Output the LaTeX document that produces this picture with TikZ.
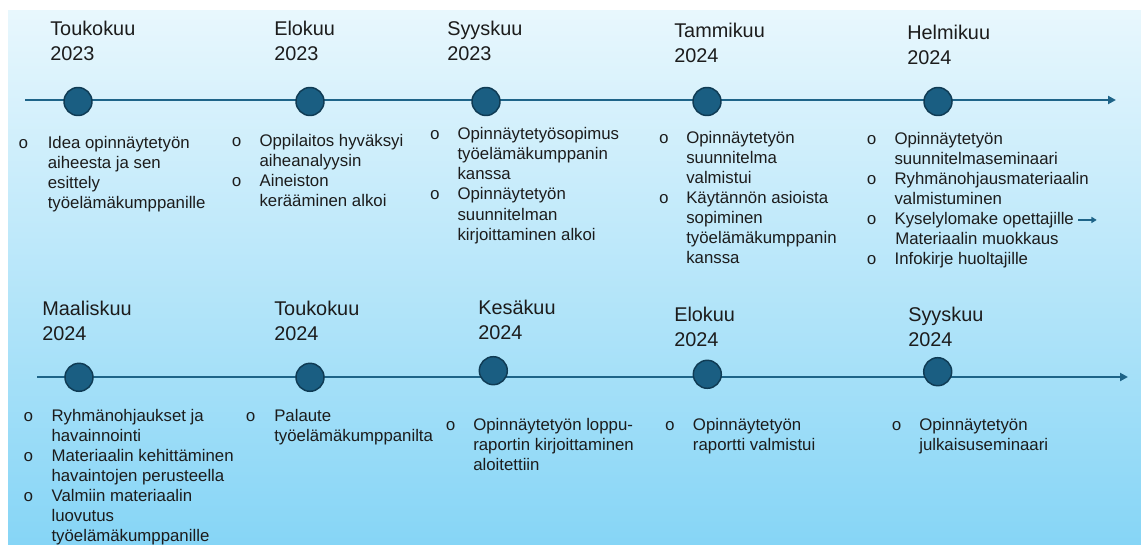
\documentclass[tikz,border=0pt]{standalone}
\usepackage{fontspec}
\setmainfont{Liberation Sans}
\newfontfamily\bulletfont{Liberation Mono}
\usepackage{tikz}
\usetikzlibrary{arrows.meta,positioning}
\definecolor{bgtop}{HTML}{E8F7FD}
\definecolor{bgbot}{HTML}{86D5F6}
\definecolor{tline}{HTML}{1E6488}
\definecolor{dotfill}{HTML}{1A5E82}
\definecolor{dotline}{HTML}{0F3B54}
\definecolor{txt}{HTML}{1C1C1C}
\newcommand{\lns}[1]{\begin{tabular}[t]{@{}l@{}}#1\end{tabular}}

\begin{document}
\begin{tikzpicture}[x=0.75pt,y=-0.75pt,
    dot/.style={circle, draw=dotline, fill=dotfill, line width=1.1pt, minimum size=21pt, inner sep=0pt},
    tl/.style={draw=tline, line width=2pt, -{Triangle[length=6pt,width=6pt]}},
    month/.style={anchor=base west, inner sep=0pt, text=txt, font=\fontsize{14.9}{18.75}\selectfont},
    item/.style={anchor=base west, inner sep=0pt, text=txt, font=\fontsize{12.6}{15}\selectfont},
    bul/.style={anchor=base, inner sep=0pt, text=txt, font=\bulletfont\fontsize{12.6}{15}\selectfont}]
    \useasboundingbox (0,0) rectangle (1141,545);
    \fill[white] (0,0) rectangle (1141,545);
    \shade[top color=bgtop, bottom color=bgbot] (8,11) rectangle (1141,545);

    % upper timeline
    \coordinate (s1) at (25,100);
    \coordinate (e1) at (1116,100);
    \draw[tl] (s1) -- (e1);
    \node at (78,101.5) [dot] (c1) {};
    \node at (310,101.5) [dot] (c2) {};
    \node at (486,101.5) [dot] (c3) {};
    \node at (707,101.5) [dot] (c4) {};
    \node at (938,101.5) [dot] (c5) {};
    \node at (50,36) [month] (h1) {\lns{Toukokuu\\2023}};
    \node at (274,36) [month] (h2) {\lns{Elokuu\\2023}};
    \node at (447,36) [month] (h3) {\lns{Syyskuu\\2023}};
    \node at (674,37.5) [month] (h4) {\lns{Tammikuu\\2024}};
    \node at (907,39.5) [month] (h5) {\lns{Helmikuu\\2024}};

    \node at (23.5,148.3) [bul] (b11) {o};
    \node at (47.5,148.3) [item] (t11) {\lns{Idea opinnäytetyön\\aiheesta ja sen\\esittely\\työelämäkumppanille}};
    \node at (236.7,146.7) [bul] (b21) {o};
    \node at (259.3,146.7) [item] (t21) {\lns{Oppilaitos hyväksyi\\aiheanalyysin}};
    \node at (236.7,186.7) [bul] (b22) {o};
    \node at (259.3,186.7) [item] (t22) {\lns{Aineiston\\kerääminen alkoi}};
    \node at (435,140) [bul] (b31) {o};
    \node at (457.3,140) [item] (t31) {\lns{Opinnäytetyösopimus\\työelämäkumppanin\\kanssa}};
    \node at (435,200) [bul] (b32) {o};
    \node at (457.3,200) [item] (t32) {\lns{Opinnäytetyön\\suunnitelman\\kirjoittaminen alkoi}};
    \node at (664,143.3) [bul] (b41) {o};
    \node at (686,143.3) [item] (t41) {\lns{Opinnäytetyön\\suunnitelma\\valmistui}};
    \node at (664,203.3) [bul] (b42) {o};
    \node at (686,203.3) [item] (t42) {\lns{Käytännön asioista\\sopiminen\\työelämäkumppanin\\kanssa}};
    \node at (871.7,144.3) [bul] (b51) {o};
    \node at (894.3,144.3) [item] (t51) {\lns{Opinnäytetyön\\suunnitelmaseminaari}};
    \node at (871.7,184.3) [bul] (b52) {o};
    \node at (894.3,184.3) [item] (t52) {\lns{Ryhmänohjausmateriaalin\\valmistuminen}};
    \node at (871.7,224.3) [bul] (b53) {o};
    \node at (894.3,224.3) [item] (t53) {Kyselylomake opettajille};
    \node at (895,244.3) [item] (t53b) {Materiaalin muokkaus};
    \node at (871.7,264.3) [bul] (b54) {o};
    \node at (894.3,264.3) [item] (t54) {Infokirje huoltajille};
    \coordinate [right=17pt of t53] (k1);
    \draw[tline, line width=1.4pt, shorten <=3pt, -{Triangle[length=4pt,width=4.5pt]}] (t53) -- (k1);

    % lower timeline
    \coordinate (s2) at (37,377);
    \coordinate (e2) at (1128,377);
    \draw[tl] (s2) -- (e2);
    \node at (79,377.3) [dot] (d1) {};
    \node at (310,377.3) [dot] (d2) {};
    \node at (493.3,370.7) [dot] (d3) {};
    \node at (707.3,374.3) [dot] (d4) {};
    \node at (937.7,371.7) [dot] (d5) {};
    \node at (42,315.7) [month] (g1) {\lns{Maaliskuu\\2024}};
    \node at (274,315) [month] (g2) {\lns{Toukokuu\\2024}};
    \node at (478,314.3) [month] (g3) {\lns{Kesäkuu\\2024}};
    \node at (674,321.7) [month] (g4) {\lns{Elokuu\\2024}};
    \node at (908,321.7) [month] (g5) {\lns{Syyskuu\\2024}};

    \node at (28.3,421.7) [bul] (p11) {o};
    \node at (51.3,421.7) [item] (q11) {\lns{Ryhmänohjaukset ja\\havainnointi}};
    \node at (28.3,461.7) [bul] (p12) {o};
    \node at (51.3,461.7) [item] (q12) {\lns{Materiaalin kehittäminen\\havaintojen perusteella}};
    \node at (28.3,501.7) [bul] (p13) {o};
    \node at (51.3,501.7) [item] (q13) {\lns{Valmiin materiaalin\\luovutus\\työelämäkumppanille}};
    \node at (250.7,421) [bul] (p21) {o};
    \node at (274,421) [item] (q21) {\lns{Palaute\\työelämäkumppanilta}};
    \node at (450.7,430.7) [bul] (p31) {o};
    \node at (473,430.7) [item] (q31) {\lns{Opinnäytetyön loppu-\\raportin kirjoittaminen\\aloitettiin}};
    \node at (670,430.7) [bul] (p41) {o};
    \node at (692.7,430.7) [item] (q41) {\lns{Opinnäytetyön\\raportti valmistui}};
    \node at (896.7,430.7) [bul] (p51) {o};
    \node at (919,430.7) [item] (q51) {\lns{Opinnäytetyön\\julkaisuseminaari}};
\end{tikzpicture}
\end{document}
